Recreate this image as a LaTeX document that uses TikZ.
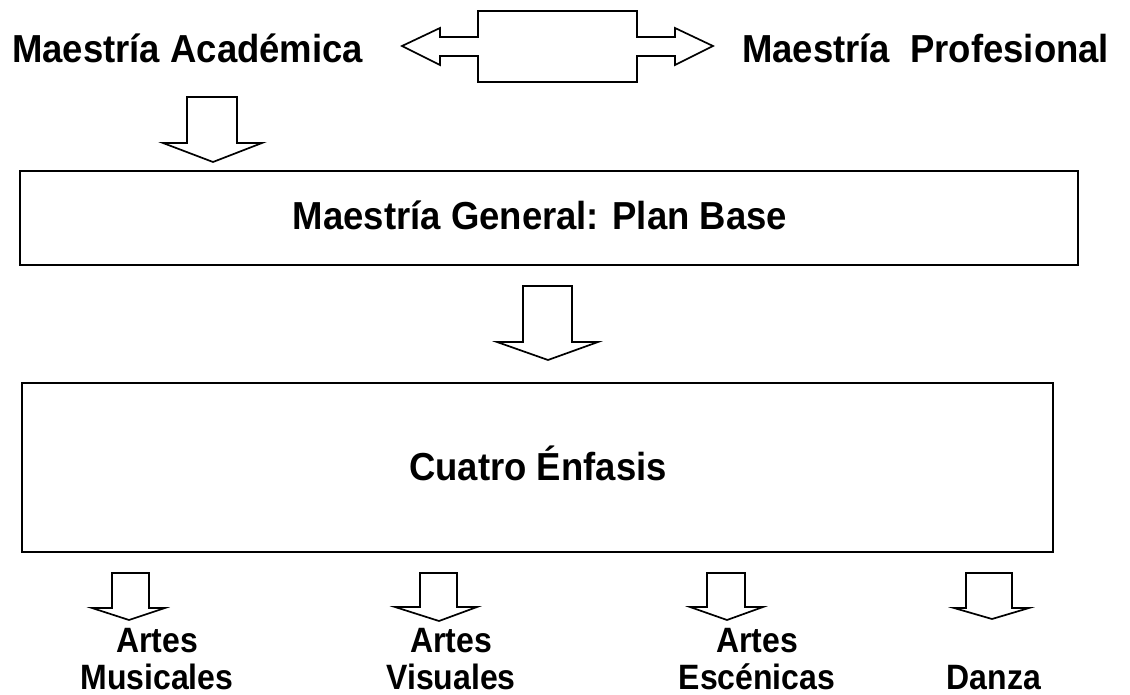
\documentclass[tikz,border=0pt]{standalone}
\usepackage{fontspec}
\setmainfont{Liberation Sans}
\newcommand{\tallA}[1]{\scalebox{1}[1.07]{#1}}
\newcommand{\tallB}[1]{\scalebox{1}[1.1]{#1}}
\begin{document}
\begin{tikzpicture}[x=1pt,y=-1pt,
  boxst/.style={draw=black, line width=2pt, fill=white, inner sep=0pt},
  blk/.style={draw=black, line width=1.7pt, fill=white, line join=miter},
  big/.style={font=\fontsize{36.5}{40}\selectfont\bfseries, inner sep=0pt},
  small/.style={font=\fontsize{32}{37}\selectfont\bfseries, inner sep=0pt, align=center, anchor=south}]
\useasboundingbox (0,0) rectangle (1130,695);
% top labels
\node[big, anchor=base west] (acad) at (12,63) {\tallA{Maestría Académica}};
\node[big, anchor=base west] (prof) at (742,63) {\tallA{Maestría\hspace{0.55em}Profesional}};
% double arrow
\draw[blk] (402,46) -- (440,28) -- (440,37) -- (478,37) -- (478,11) -- (637,11) -- (637,37)
  -- (675,37) -- (675,28) -- (713,46) -- (675,65) -- (675,56) -- (637,56) -- (637,82)
  -- (478,82) -- (478,56) -- (440,56) -- (440,65) -- cycle;
% left down arrow
\draw[blk] (187,97) -- (237,97) -- (237,143) -- (262,143) -- (213,162) -- (163,143) -- (187,143) -- cycle;
% box 1
\node[boxst, minimum width=1058pt, minimum height=94pt] (plan) at (549,218) {};
\node[big, anchor=base] (plantxt) at (540,230) {\tallA{Maestría General: Plan Base}};
% middle arrow
\draw[blk] (523,286) -- (572,286) -- (572,342) -- (598,342) -- (548,360) -- (497,342) -- (523,342) -- cycle;
% box 2
\node[boxst, minimum width=1031pt, minimum height=169pt] (enf) at (537.5,467.5) {};
\node[big, anchor=base] (enftxt) at (538,480) {\tallA{Cuatro Énfasis}};
% small arrows
\draw[blk] (112,573) -- (149,573) -- (149,608) -- (165,608) -- (129,620) -- (92,608) -- (112,608) -- cycle;
\draw[blk] (420,573) -- (457,573) -- (457,607) -- (477,607) -- (439,621) -- (395,607) -- (420,607) -- cycle;
\draw[blk] (707,573) -- (745,573) -- (745,607) -- (763,607) -- (727,620) -- (690,607) -- (707,607) -- cycle;
\draw[blk] (966,573) -- (1012,573) -- (1012,608) -- (1029,608) -- (992,619) -- (954,608) -- (966,608) -- cycle;
% bottom labels
\node[small] (mus) at (157,690) {\tallB{Artes}\\\tallB{Musicales}};
\node[small] (vis) at (451,690) {\tallB{Artes}\\\tallB{Visuales}};
\node[small] (esc) at (757,690) {\tallB{Artes}\\\tallB{Escénicas}};
\node[small] (dan) at (994,690) {\tallB{Danza}};
\end{tikzpicture}
\end{document}
